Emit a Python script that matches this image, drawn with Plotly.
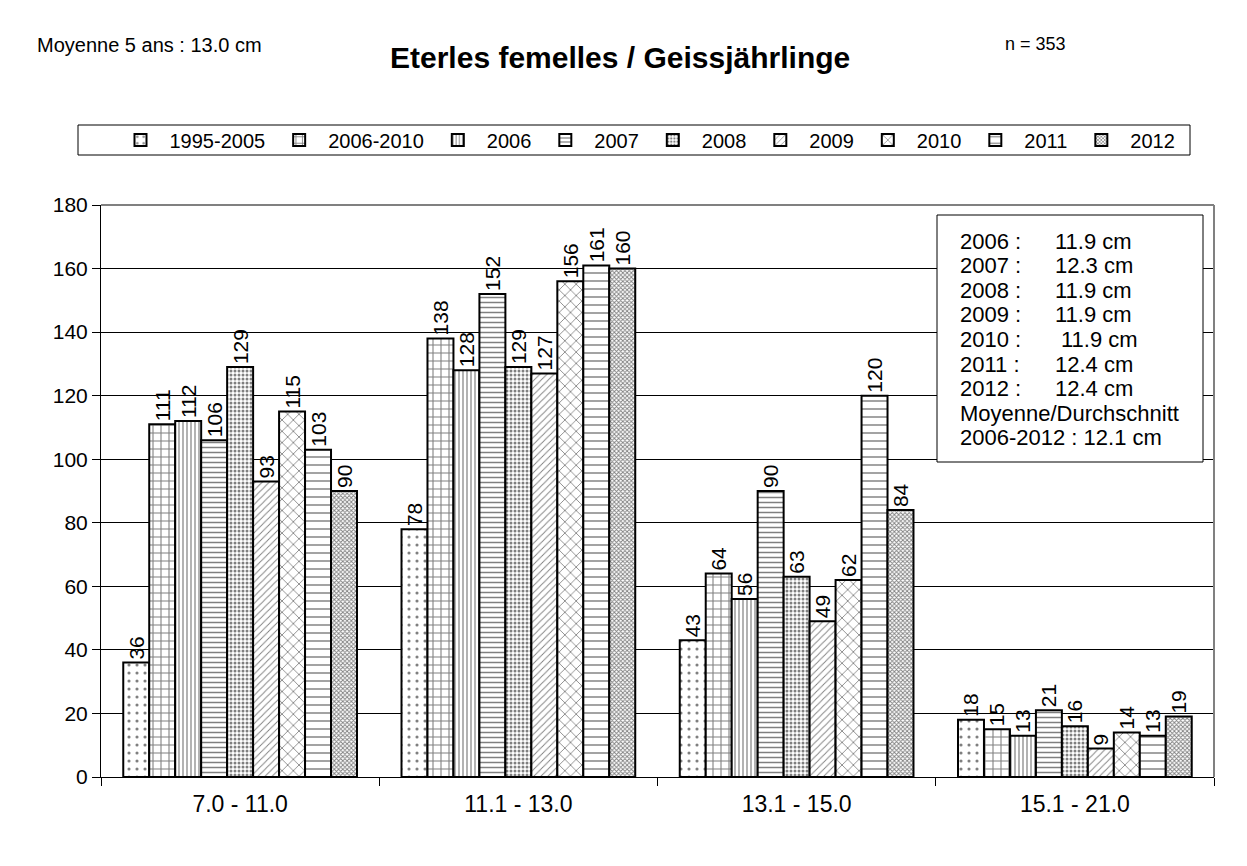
import plotly.graph_objects as go

# --- data ---
categories = ["7.0 - 11.0", "11.1 - 13.0", "13.1 - 15.0", "15.1 - 21.0"]
series_names = ["1995-2005", "2006-2010", "2006", "2007", "2008", "2009", "2010", "2011", "2012"]
v_1995_2005 = [36, 78, 43, 18]
v_2006_2010 = [111, 138, 64, 15]
v_2006 = [112, 128, 56, 13]
v_2007 = [106, 152, 90, 21]
v_2008 = [129, 129, 63, 16]
v_2009 = [93, 127, 49, 9]
v_2010 = [115, 156, 62, 14]
v_2011 = [103, 161, 120, 13]
v_2012 = [90, 160, 84, 19]
series_values = [v_1995_2005, v_2006_2010, v_2006, v_2007, v_2008,
                 v_2009, v_2010, v_2011, v_2012]

box_years = ["2006 :", "2007 :", "2008 :", "2009 :", "2010 :", "2011 :", "2012 :"]
box_means = ["11.9 cm", "12.3 cm", "11.9 cm", "11.9 cm", "11.9 cm", "12.4 cm", "12.4 cm"]
box_footer = ["Moyenne/Durchschnitt", "2006-2012 : 12.1 cm"]

title_text = "Eterles femelles / Geissjährlinge"
left_note = "Moyenne 5 ans : 13.0 cm"
right_note = "n = 353"

# motifs noir/blanc (approximation des hachures Excel)
patterns = [
    dict(shape=".", size=8, solidity=0.12),
    dict(shape="+", size=8, solidity=0.25),
    dict(shape="|", size=4, solidity=0.3),
    dict(shape="-", size=5, solidity=0.3),
    dict(shape=".", size=4, solidity=0.45),
    dict(shape="/", size=5, solidity=0.18),
    dict(shape="x", size=8, solidity=0.2),
    dict(shape="-", size=8, solidity=0.18),
    dict(shape="x", size=3, solidity=0.5),
]

FONT = "Arial, Liberation Sans, sans-serif"
OFF = 8  # marge du <body> de la page
W, H = 1247 - OFF, 866 - OFF
# zone de tracé, en pixels de la page
PL, PR, PT, PB = 101, 1214, 205, 777


def px_x(p):
    return (p - PL) / (PR - PL)


def px_y(p):
    return (PB - p) / (PB - PT)


fig = go.Figure()
for name, vals, pat in zip(series_names, series_values, patterns):
    fig.add_trace(go.Bar(
        x=categories, y=vals, name=name,
        marker=dict(color="white", line=dict(color="black", width=2),
                    pattern=dict(fgcolor="black", bgcolor="white", **pat)),
        text=[str(v) for v in vals], textposition="outside", textangle=-90,
        textfont=dict(family=FONT, size=21, color="black"),
        constraintext="none", cliponaxis=False,
    ))

shapes = [
    # bord droit du cadre extérieur
    dict(type="line", xref="paper", yref="paper", x0=px_x(1242), x1=px_x(1242),
         y0=px_y(866), y1=px_y(8), line=dict(color="#666666", width=1, dash="dot")),
    # bord haut/droite de la zone de tracé
    dict(type="line", xref="paper", yref="paper", x0=0, x1=1, y0=1, y1=1,
         line=dict(color="#808080", width=2)),
    dict(type="line", xref="paper", yref="paper", x0=1, x1=1, y0=0, y1=1,
         line=dict(color="#808080", width=2)),
    # cadre de légende
    dict(type="rect", xref="paper", yref="paper", x0=px_x(78), x1=px_x(1190),
         y0=px_y(155), y1=px_y(125), line=dict(color="black", width=1)),
    # boîte des moyennes
    dict(type="rect", xref="paper", yref="paper", x0=px_x(937), x1=px_x(1203),
         y0=px_y(462), y1=px_y(215), fillcolor="white", layer="above",
         line=dict(color="black", width=1)),
]

annotations = [
    dict(text="<b>%s</b>" % title_text, x=px_x(620), y=px_y(57),
         font=dict(size=30, color="black", family=FONT)),
    dict(text=left_note, x=px_x(35), y=px_y(45), xanchor="left",
         font=dict(size=20, color="black", family=FONT)),
    dict(text=right_note, x=px_x(1003), y=px_y(44), xanchor="left",
         font=dict(size=18, color="black", family=FONT)),
]
line_y0, line_dy = 241, 24.6
for i, (yr, mean) in enumerate(zip(box_years, box_means)):
    yy = px_y(line_y0 + i * line_dy)
    annotations.append(dict(text=yr, x=px_x(958), y=yy, xanchor="left",
                            font=dict(size=22, color="black", family=FONT)))
    annotations.append(dict(text=mean, x=px_x(1053 if yr != "2010 :" else 1059), y=yy,
                            xanchor="left",
                            font=dict(size=22, color="black", family=FONT)))
for j, txt in enumerate(box_footer):
    yy = px_y(line_y0 + (len(box_years) + j) * line_dy)
    annotations.append(dict(text=txt, x=px_x(958), y=yy, xanchor="left",
                            font=dict(size=22, color="black", family=FONT)))
for a in annotations:
    a.update(xref="paper", yref="paper", showarrow=False, yanchor="middle")

fig.update_layout(
    width=W, height=H, autosize=False,
    margin=dict(l=PL - OFF, r=OFF + W - PR, t=PT - OFF, b=OFF + H - PB),
    paper_bgcolor="white", plot_bgcolor="white",
    barmode="group", bargap=0.16, bargroupgap=0,
    font=dict(family=FONT, color="black"),
    showlegend=True,
    legend=dict(orientation="h", x=px_x(646), xanchor="center",
                y=px_y(140), yanchor="middle", bgcolor="rgba(0,0,0,0)",
                font=dict(size=20, family=FONT, color="black"),
                itemwidth=48, traceorder="normal"),
    shapes=shapes, annotations=annotations,
)
fig.update_xaxes(showline=True, linecolor="black", linewidth=1,
                 ticks="outside", tickson="boundaries", ticklen=8,
                 tickcolor="black", showgrid=False, ticklabelstandoff=6,
                 tickfont=dict(size=23, family=FONT, color="black"))
fig.update_yaxes(range=[0, 180], dtick=20, showline=True, linecolor="black",
                 linewidth=1, ticks="outside", ticklen=8, tickcolor="black",
                 showgrid=True, gridcolor="black", gridwidth=1, zeroline=False,
                 tickfont=dict(size=21, family=FONT, color="black"))

fig.write_html("out.html")
